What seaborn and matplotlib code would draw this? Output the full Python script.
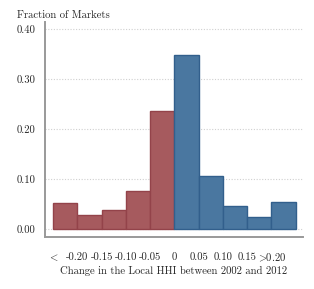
import numpy as np
import pandas as pd
import seaborn as sns
import matplotlib.pyplot as plt

# bins of the change in local HHI, and share of markets in each
bin_edges = [-0.25, -0.20, -0.15, -0.10, -0.05, 0.0, 0.05, 0.10, 0.15, 0.20, 0.25]
fractions = [0.051, 0.027, 0.038, 0.076, 0.235, 0.348, 0.106, 0.046, 0.023, 0.053]
tick_pos = [-0.25, -0.20, -0.15, -0.10, -0.05, 0.0, 0.05, 0.10, 0.15, 0.20]
tick_labels = ["$<$", "-0.20", "-0.15", "-0.10", "-0.05", "0", "0.05", "0.10", "0.15", r"$>\!\!$0.20"]

sns.set_style("white")
plt.rcParams["font.family"] = ["cmr10", "DejaVu Serif"]
plt.rcParams["mathtext.fontset"] = "cm"
plt.rcParams["axes.unicode_minus"] = False
plt.rcParams["axes.formatter.use_mathtext"] = True

edges = np.array(bin_edges)
df = pd.DataFrame({"x": (edges[:-1] + edges[1:]) / 2, "w": fractions})
neg = df[df.x < 0]
pos = df[df.x > 0]

fig = plt.figure(figsize=(3.14, 2.89), dpi=100)
ax = fig.add_axes([0.1433, 0.180, 0.8217, 0.745])

sns.histplot(data=neg, x="x", weights="w", bins=list(bin_edges[:6]), color="#a65a5e",
             edgecolor="#93434a", linewidth=1.0, alpha=1, ax=ax, zorder=3)
sns.histplot(data=pos, x="x", weights="w", bins=list(bin_edges[5:]), color="#4a77a0",
             edgecolor="#325f8c", linewidth=1.0, alpha=1, ax=ax, zorder=3)

ax.set_xlim(-0.267, 0.265)
ax.set_ylim(-0.016, 0.4146)
ax.set_yticks([0, 0.1, 0.2, 0.3, 0.4])
ax.set_yticklabels(["0.00", "0.10", "0.20", "0.30", "0.40"], fontsize=7.7)
ax.set_xticks(tick_pos)
ax.set_xticklabels(tick_labels, fontsize=7.7)
# no tick mark under the "<" label
ax.xaxis.get_major_ticks()[0].tick1line.set_visible(False)

ax.yaxis.grid(True, linestyle=(0, (1, 1.5)), color="#d0d0d0", linewidth=0.8, zorder=0)
ax.xaxis.grid(False)
ax.tick_params(axis="both", direction="out", length=4, width=0.8, color="#999999")
ax.tick_params(axis="x", pad=7)
ax.tick_params(axis="y", pad=3)

for s in ["top", "right"]:
    ax.spines[s].set_visible(False)
for s in ["left", "bottom"]:
    ax.spines[s].set_color("#999999")
    ax.spines[s].set_linewidth(1.4)

ax.set_ylabel("")
ax.set_xlabel("Change in the Local HHI between 2002 and 2012", fontsize=7.7, labelpad=1)
fig.text(0.054, 0.948, "Fraction of Markets", fontsize=7.7, va="center", ha="left")

fig.savefig("out.png", dpi=100)
